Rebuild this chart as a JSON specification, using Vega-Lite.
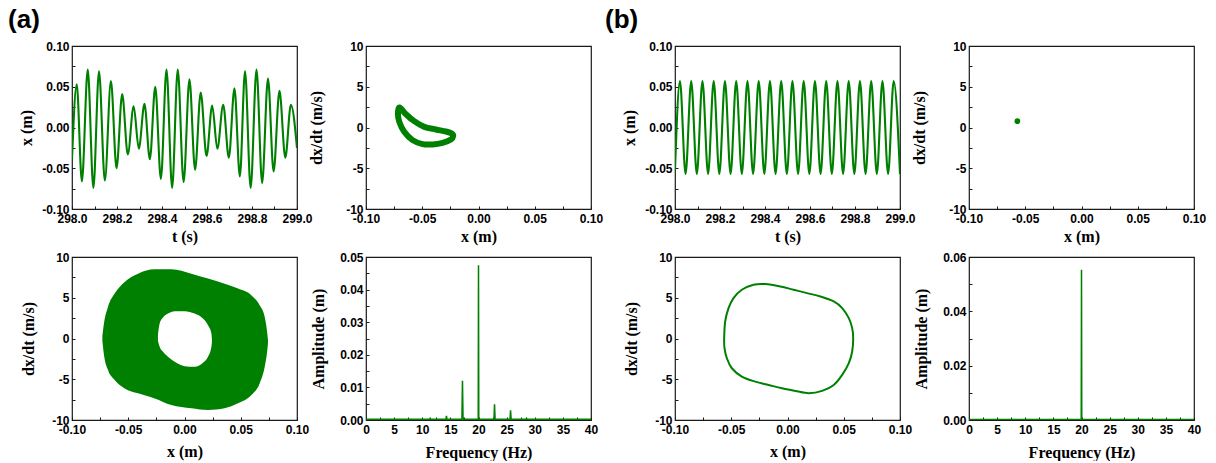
{
"$schema": "https://vega.github.io/schema/vega-lite/v6.json",
"background": "white",
"padding": {"left": 8, "top": 7, "right": 0, "bottom": 0},
"config": {
  "view": {"stroke": "#1a1a1a", "strokeWidth": 1.2},
  "axis": {"domain": false, "grid": false, "ticks": true, "tickSize": -3, "tickColor": "#1a1a1a", "tickWidth": 1, "labelFont": "Liberation Sans", "labelFontWeight": "bold", "labelFontSize": 12, "labelColor": "#000", "labelPadding": 6, "labelFlush": false, "labelOverlap": false, "titleFont": "Liberation Serif", "titleFontWeight": "bold", "titleFontSize": 16, "titleColor": "#000"},
  "axisX": {"labelPadding": 7},
  "title": {"font": "Liberation Sans", "fontWeight": "bold", "fontSize": 26, "color": "#000", "anchor": "start"}
},
"datasets": {
  "tsA": [
    {"t": 298.000, "x": -0.039}, {"t": 298.021, "x": 0.053}, {"t": 298.044, "x": -0.066}, {"t": 298.070, "x": 0.071},
    {"t": 298.095, "x": -0.074}, {"t": 298.120, "x": 0.069}, {"t": 298.146, "x": -0.065}, {"t": 298.173, "x": 0.057},
    {"t": 298.198, "x": -0.050}, {"t": 298.223, "x": 0.041}, {"t": 298.248, "x": -0.033}, {"t": 298.274, "x": 0.026},
    {"t": 298.297, "x": -0.026}, {"t": 298.322, "x": 0.029}, {"t": 298.346, "x": -0.039}, {"t": 298.370, "x": 0.050},
    {"t": 298.395, "x": -0.063}, {"t": 298.420, "x": 0.071}, {"t": 298.445, "x": -0.074}, {"t": 298.470, "x": 0.071},
    {"t": 298.496, "x": -0.067}, {"t": 298.522, "x": 0.059}, {"t": 298.547, "x": -0.052}, {"t": 298.572, "x": 0.043},
    {"t": 298.598, "x": -0.035}, {"t": 298.623, "x": 0.027}, {"t": 298.646, "x": -0.026}, {"t": 298.672, "x": 0.028},
    {"t": 298.697, "x": -0.037}, {"t": 298.722, "x": 0.048}, {"t": 298.746, "x": -0.060}, {"t": 298.769, "x": 0.069},
    {"t": 298.794, "x": -0.074}, {"t": 298.820, "x": 0.071}, {"t": 298.845, "x": -0.068}, {"t": 298.871, "x": 0.060},
    {"t": 298.896, "x": -0.054}, {"t": 298.922, "x": 0.045}, {"t": 298.948, "x": -0.037}, {"t": 298.973, "x": 0.028},
    {"t": 299.000, "x": -0.025}
  ],
  "tsB": [
    {"t": 298.000, "x": -0.052}, {"t": 298.022, "x": 0.057}, {"t": 298.047, "x": -0.057}, {"t": 298.072, "x": 0.057},
    {"t": 298.097, "x": -0.057}, {"t": 298.122, "x": 0.057}, {"t": 298.147, "x": -0.057}, {"t": 298.172, "x": 0.057},
    {"t": 298.197, "x": -0.057}, {"t": 298.222, "x": 0.057}, {"t": 298.247, "x": -0.057}, {"t": 298.272, "x": 0.057},
    {"t": 298.297, "x": -0.057}, {"t": 298.322, "x": 0.057}, {"t": 298.347, "x": -0.057}, {"t": 298.372, "x": 0.057},
    {"t": 298.397, "x": -0.057}, {"t": 298.422, "x": 0.057}, {"t": 298.447, "x": -0.057}, {"t": 298.472, "x": 0.057},
    {"t": 298.497, "x": -0.057}, {"t": 298.522, "x": 0.057}, {"t": 298.547, "x": -0.057}, {"t": 298.572, "x": 0.057},
    {"t": 298.597, "x": -0.057}, {"t": 298.622, "x": 0.057}, {"t": 298.647, "x": -0.057}, {"t": 298.672, "x": 0.057},
    {"t": 298.697, "x": -0.057}, {"t": 298.722, "x": 0.057}, {"t": 298.747, "x": -0.057}, {"t": 298.772, "x": 0.057},
    {"t": 298.797, "x": -0.057}, {"t": 298.822, "x": 0.057}, {"t": 298.847, "x": -0.057}, {"t": 298.872, "x": 0.057},
    {"t": 298.897, "x": -0.057}, {"t": 298.922, "x": 0.057}, {"t": 298.947, "x": -0.057}, {"t": 298.972, "x": 0.057},
    {"t": 299.000, "x": -0.057}
  ],
  "poA": [
    {"i": 0, "x": -0.0701, "v": 2.45}, {"i": 1, "x": -0.0645, "v": 1.63}, {"i": 2, "x": -0.0571, "v": 0.78},
    {"i": 3, "x": -0.0482, "v": 0.08}, {"i": 4, "x": -0.0379, "v": -0.24}, {"i": 5, "x": -0.0290, "v": -0.49},
    {"i": 6, "x": -0.0237, "v": -0.73}, {"i": 7, "x": -0.0225, "v": -1.06}, {"i": 8, "x": -0.0245, "v": -1.47},
    {"i": 9, "x": -0.0319, "v": -1.88}, {"i": 10, "x": -0.0408, "v": -2.08}, {"i": 11, "x": -0.0497, "v": -2.04},
    {"i": 12, "x": -0.0586, "v": -1.55}, {"i": 13, "x": -0.0660, "v": -0.53}, {"i": 14, "x": -0.0704, "v": 0.69},
    {"i": 15, "x": -0.0716, "v": 1.71}
  ],
  "poB": [{"x": -0.057, "v": 0.78}],
  "annOuter": [
    {"x": -0.0730, "hi": 0.3, "lo": -0.3}, {"x": -0.0716, "hi": 1.84, "lo": -2.0}, {"x": -0.0680, "hi": 3.88, "lo": -3.88},
    {"x": -0.0621, "hi": 5.51, "lo": -5.10}, {"x": -0.0532, "hi": 6.94, "lo": -6.12}, {"x": -0.0413, "hi": 7.96, "lo": -6.73},
    {"x": -0.0265, "hi": 8.49, "lo": -7.35}, {"x": -0.0117, "hi": 8.49, "lo": -8.16}, {"x": 0.0061, "hi": 7.96, "lo": -8.57},
    {"x": 0.0209, "hi": 7.35, "lo": -8.78}, {"x": 0.0357, "hi": 6.73, "lo": -8.57}, {"x": 0.0476, "hi": 6.12, "lo": -7.96},
    {"x": 0.0594, "hi": 5.31, "lo": -6.94}, {"x": 0.0668, "hi": 4.08, "lo": -5.51}, {"x": 0.0713, "hi": 2.65, "lo": -3.47},
    {"x": 0.0736, "hi": 0.61, "lo": -1.43}, {"x": 0.0742, "hi": -0.2, "lo": -0.6}
  ],
  "annHole": [
    {"x": -0.0236, "hi": 0.5, "lo": -0.3}, {"x": -0.0221, "hi": 1.84, "lo": -1.02}, {"x": -0.0191, "hi": 2.57, "lo": -1.63},
    {"x": -0.0147, "hi": 3.06, "lo": -2.24}, {"x": -0.0087, "hi": 3.35, "lo": -2.86}, {"x": 0.0001, "hi": 3.35, "lo": -3.39},
    {"x": 0.0090, "hi": 3.06, "lo": -3.47}, {"x": 0.0164, "hi": 2.45, "lo": -2.98}, {"x": 0.0209, "hi": 1.63, "lo": -2.24},
    {"x": 0.0239, "hi": 0.61, "lo": -1.02}, {"x": 0.0244, "hi": -0.2, "lo": -0.41}
  ],
  "cycB": [
    {"i": 0, "x": -0.0563, "v": 0.04}, {"i": 1, "x": -0.0554, "v": 2.09}, {"i": 2, "x": -0.0524, "v": 3.73},
    {"i": 3, "x": -0.0480, "v": 4.96}, {"i": 4, "x": -0.0406, "v": 5.98}, {"i": 5, "x": -0.0302, "v": 6.60},
    {"i": 6, "x": -0.0198, "v": 6.68}, {"i": 7, "x": -0.0064, "v": 6.39}, {"i": 8, "x": 0.0055, "v": 5.98},
    {"i": 9, "x": 0.0174, "v": 5.57}, {"i": 10, "x": 0.0292, "v": 5.16}, {"i": 11, "x": 0.0411, "v": 4.55},
    {"i": 12, "x": 0.0486, "v": 3.73}, {"i": 13, "x": 0.0545, "v": 2.50}, {"i": 14, "x": 0.0575, "v": 1.27},
    {"i": 15, "x": 0.0584, "v": 0.04}, {"i": 16, "x": 0.0575, "v": -1.60}, {"i": 17, "x": 0.0545, "v": -3.03},
    {"i": 18, "x": 0.0486, "v": -4.47}, {"i": 19, "x": 0.0411, "v": -5.70}, {"i": 20, "x": 0.0308, "v": -6.43},
    {"i": 21, "x": 0.0189, "v": -6.72}, {"i": 22, "x": 0.0070, "v": -6.43}, {"i": 23, "x": -0.0049, "v": -6.11},
    {"i": 24, "x": -0.0168, "v": -5.70}, {"i": 25, "x": -0.0287, "v": -5.29}, {"i": 26, "x": -0.0406, "v": -4.67},
    {"i": 27, "x": -0.0495, "v": -3.65}, {"i": 28, "x": -0.0539, "v": -2.42}, {"i": 29, "x": -0.0560, "v": -1.19}
  ],
  "specA": [
    {"f": 0, "a": 0.0002}, {"f": 11.3, "a": 0.0002}, {"f": 11.4, "a": 0.0005}, {"f": 11.5, "a": 0.0002},
    {"f": 14.2, "a": 0.0002}, {"f": 14.3, "a": 0.0013}, {"f": 14.4, "a": 0.0002}, {"f": 17.05, "a": 0.0002},
    {"f": 17.15, "a": 0.012}, {"f": 17.25, "a": 0.0008}, {"f": 17.35, "a": 0.0002}, {"f": 19.95, "a": 0.0002},
    {"f": 20.0, "a": 0.0475}, {"f": 20.05, "a": 0.0002}, {"f": 22.75, "a": 0.0002}, {"f": 22.85, "a": 0.0048},
    {"f": 22.95, "a": 0.0002}, {"f": 25.6, "a": 0.0002}, {"f": 25.7, "a": 0.0030}, {"f": 25.8, "a": 0.0002},
    {"f": 28.45, "a": 0.0002}, {"f": 28.55, "a": 0.0005}, {"f": 28.65, "a": 0.0002}, {"f": 40, "a": 0.0002}
  ],
  "specB": [
    {"f": 0, "a": 0.0002}, {"f": 19.95, "a": 0.0002}, {"f": 20.0, "a": 0.0553}, {"f": 20.05, "a": 0.0002}, {"f": 40, "a": 0.0002}
  ]
},
"spacing": 1,
"hconcat": [
  {
    "title": {"text": "(a)", "dx": -10, "offset": 6},
    "columns": 2,
    "spacing": {"column": 69, "row": 48},
    "bounds": "flush",
    "concat": [
      {
        "width": 225, "height": 163,
        "data": {"name": "tsA"},
        "mark": {"type": "line", "color": "#008000", "strokeWidth": 2.1, "interpolate": "monotone", "clip": true},
        "encoding": {
          "x": {"field": "t", "type": "quantitative", "scale": {"domain": [298, 299], "nice": false, "zero": false},
                "axis": {"title": "t (s)", "titlePadding": 4, "values": [298, 298.1, 298.2, 298.3, 298.4, 298.5, 298.6, 298.7, 298.8, 298.9, 299],
                         "labelExpr": "abs(datum.value*5-round(datum.value*5))<0.001 ? format(datum.value,'.1f') : ''"}},
          "y": {"field": "x", "type": "quantitative", "scale": {"domain": [-0.1, 0.1], "nice": false, "zero": false},
                "axis": {"title": "x (m)", "titlePadding": 7, "values": [-0.1, -0.075, -0.05, -0.025, 0, 0.025, 0.05, 0.075, 0.1],
                         "labelExpr": "abs(datum.value*20-round(datum.value*20))<0.001 ? (datum.value < -0.0001 ? '-' : '') + format(abs(datum.value),'.2f') : ''"}}
        }
      },
      {
        "width": 225, "height": 163,
        "data": {"name": "poA"},
        "mark": {"type": "line", "color": "#008000", "strokeWidth": 6, "interpolate": "cardinal-closed", "clip": true},
        "encoding": {
          "x": {"field": "x", "type": "quantitative", "scale": {"domain": [-0.1, 0.1], "nice": false, "zero": false},
                "axis": {"title": "x (m)", "titlePadding": 4, "values": [-0.1, -0.075, -0.05, -0.025, 0, 0.025, 0.05, 0.075, 0.1],
                         "labelExpr": "abs(datum.value*20-round(datum.value*20))<0.001 ? (datum.value < -0.0001 ? '-' : '') + format(abs(datum.value),'.2f') : ''"}},
          "y": {"field": "v", "type": "quantitative", "scale": {"domain": [-10, 10], "nice": false, "zero": false},
                "axis": {"title": "dx/dt (m/s)", "titlePadding": 21, "values": [-10, -7.5, -5, -2.5, 0, 2.5, 5, 7.5, 10],
                         "labelExpr": "abs(datum.value/5-round(datum.value/5))<0.001 ? (datum.value < 0 ? '-' : '') + format(abs(datum.value),'d') : ''"}},
          "order": {"field": "i", "type": "quantitative"}
        }
      },
      {
        "width": 225, "height": 163,
        "encoding": {
          "x": {"field": "x", "type": "quantitative", "scale": {"domain": [-0.1, 0.1], "nice": false, "zero": false},
                "axis": {"title": "x (m)", "titlePadding": 8, "values": [-0.1, -0.075, -0.05, -0.025, 0, 0.025, 0.05, 0.075, 0.1],
                         "labelExpr": "abs(datum.value*20-round(datum.value*20))<0.001 ? (datum.value < -0.0001 ? '-' : '') + format(abs(datum.value),'.2f') : ''"}},
          "y": {"field": "hi", "type": "quantitative", "scale": {"domain": [-10, 10], "nice": false, "zero": false},
                "axis": {"title": "dx/dt (m/s)", "titlePadding": 15, "values": [-10, -7.5, -5, -2.5, 0, 2.5, 5, 7.5, 10],
                         "labelExpr": "abs(datum.value/5-round(datum.value/5))<0.001 ? (datum.value < 0 ? '-' : '') + format(abs(datum.value),'d') : ''"}},
          "y2": {"field": "lo"}
        },
        "layer": [
          {"data": {"name": "annOuter"}, "mark": {"type": "area", "color": "#008000", "opacity": 1, "interpolate": "monotone"}},
          {"data": {"name": "annHole"}, "mark": {"type": "area", "color": "#ffffff", "opacity": 1, "interpolate": "monotone"}}
        ]
      },
      {
        "width": 225, "height": 163,
        "data": {"name": "specA"},
        "mark": {"type": "line", "color": "#008000", "strokeWidth": 1.5, "clip": true},
        "encoding": {
          "x": {"field": "f", "type": "quantitative", "scale": {"domain": [0, 40], "nice": false, "zero": false},
                "axis": {"title": "Frequency (Hz)", "titlePadding": 9, "values": [0, 2.5, 5, 7.5, 10, 12.5, 15, 17.5, 20, 22.5, 25, 27.5, 30, 32.5, 35, 37.5, 40],
                         "labelExpr": "abs(datum.value/5-round(datum.value/5))<0.001 ? format(datum.value,'d') : ''"}},
          "y": {"field": "a", "type": "quantitative", "scale": {"domain": [0, 0.05], "nice": false, "zero": false},
                "axis": {"title": "Amplitude (m)", "titlePadding": 13, "values": [0, 0.005, 0.01, 0.015, 0.02, 0.025, 0.03, 0.035, 0.04, 0.045, 0.05],
                         "labelExpr": "abs(datum.value*100-round(datum.value*100))<0.001 ? format(datum.value,'.2f') : ''"}}
        }
      }
    ]
  },
  {
    "title": {"text": "(b)", "dx": -16, "offset": 6},
    "columns": 2,
    "spacing": {"column": 69, "row": 48},
    "bounds": "flush",
    "concat": [
      {
        "width": 225, "height": 163,
        "data": {"name": "tsB"},
        "mark": {"type": "line", "color": "#008000", "strokeWidth": 2.1, "interpolate": "monotone", "clip": true},
        "encoding": {
          "x": {"field": "t", "type": "quantitative", "scale": {"domain": [298, 299], "nice": false, "zero": false},
                "axis": {"title": "t (s)", "titlePadding": 4, "values": [298, 298.1, 298.2, 298.3, 298.4, 298.5, 298.6, 298.7, 298.8, 298.9, 299],
                         "labelExpr": "abs(datum.value*5-round(datum.value*5))<0.001 ? format(datum.value,'.1f') : ''"}},
          "y": {"field": "x", "type": "quantitative", "scale": {"domain": [-0.1, 0.1], "nice": false, "zero": false},
                "axis": {"title": "x (m)", "titlePadding": 7, "values": [-0.1, -0.075, -0.05, -0.025, 0, 0.025, 0.05, 0.075, 0.1],
                         "labelExpr": "abs(datum.value*20-round(datum.value*20))<0.001 ? (datum.value < -0.0001 ? '-' : '') + format(abs(datum.value),'.2f') : ''"}}
        }
      },
      {
        "width": 225, "height": 163,
        "data": {"name": "poB"},
        "mark": {"type": "point", "filled": true, "color": "#008000", "opacity": 1, "size": 32, "clip": true},
        "encoding": {
          "x": {"field": "x", "type": "quantitative", "scale": {"domain": [-0.1, 0.1], "nice": false, "zero": false},
                "axis": {"title": "x (m)", "titlePadding": 4, "values": [-0.1, -0.075, -0.05, -0.025, 0, 0.025, 0.05, 0.075, 0.1],
                         "labelExpr": "abs(datum.value*20-round(datum.value*20))<0.001 ? (datum.value < -0.0001 ? '-' : '') + format(abs(datum.value),'.2f') : ''"}},
          "y": {"field": "v", "type": "quantitative", "scale": {"domain": [-10, 10], "nice": false, "zero": false},
                "axis": {"title": "dx/dt (m/s)", "titlePadding": 21, "values": [-10, -7.5, -5, -2.5, 0, 2.5, 5, 7.5, 10],
                         "labelExpr": "abs(datum.value/5-round(datum.value/5))<0.001 ? (datum.value < 0 ? '-' : '') + format(abs(datum.value),'d') : ''"}}
        }
      },
      {
        "width": 225, "height": 163,
        "data": {"name": "cycB"},
        "mark": {"type": "line", "color": "#008000", "strokeWidth": 2, "interpolate": "cardinal-closed", "clip": true},
        "encoding": {
          "x": {"field": "x", "type": "quantitative", "scale": {"domain": [-0.1, 0.1], "nice": false, "zero": false},
                "axis": {"title": "x (m)", "titlePadding": 8, "values": [-0.1, -0.075, -0.05, -0.025, 0, 0.025, 0.05, 0.075, 0.1],
                         "labelExpr": "abs(datum.value*20-round(datum.value*20))<0.001 ? (datum.value < -0.0001 ? '-' : '') + format(abs(datum.value),'.2f') : ''"}},
          "y": {"field": "v", "type": "quantitative", "scale": {"domain": [-10, 10], "nice": false, "zero": false},
                "axis": {"title": "dx/dt (m/s)", "titlePadding": 15, "values": [-10, -7.5, -5, -2.5, 0, 2.5, 5, 7.5, 10],
                         "labelExpr": "abs(datum.value/5-round(datum.value/5))<0.001 ? (datum.value < 0 ? '-' : '') + format(abs(datum.value),'d') : ''"}},
          "order": {"field": "i", "type": "quantitative"}
        }
      },
      {
        "width": 225, "height": 163,
        "data": {"name": "specB"},
        "mark": {"type": "line", "color": "#008000", "strokeWidth": 1.5, "clip": true},
        "encoding": {
          "x": {"field": "f", "type": "quantitative", "scale": {"domain": [0, 40], "nice": false, "zero": false},
                "axis": {"title": "Frequency (Hz)", "titlePadding": 9, "values": [0, 2.5, 5, 7.5, 10, 12.5, 15, 17.5, 20, 22.5, 25, 27.5, 30, 32.5, 35, 37.5, 40],
                         "labelExpr": "abs(datum.value/5-round(datum.value/5))<0.001 ? format(datum.value,'d') : ''"}},
          "y": {"field": "a", "type": "quantitative", "scale": {"domain": [0, 0.06], "nice": false, "zero": false},
                "axis": {"title": "Amplitude (m)", "titlePadding": 13, "values": [0, 0.01, 0.02, 0.03, 0.04, 0.05, 0.06],
                         "labelExpr": "abs(datum.value*50-round(datum.value*50))<0.001 ? format(datum.value,'.2f') : ''"}}
        }
      }
    ]
  }
]
}
